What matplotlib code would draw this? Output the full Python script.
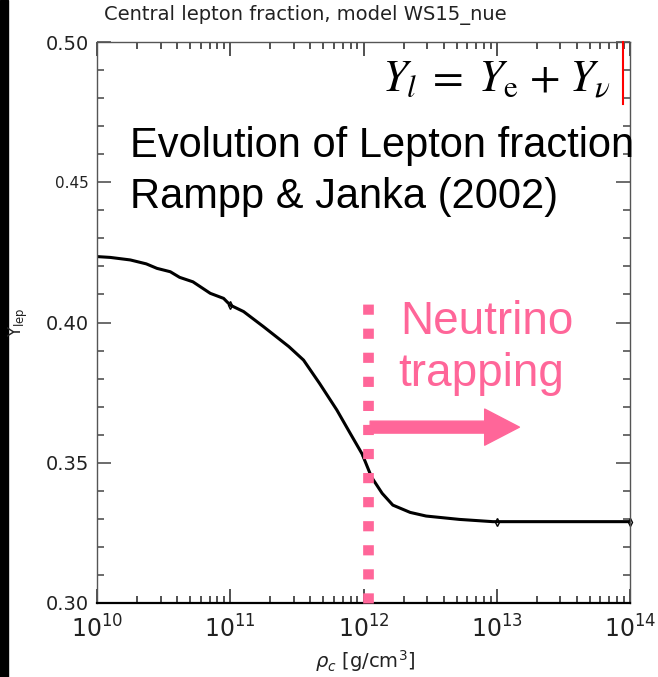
"""Central lepton fraction vs. central density (Rampp & Janka 2002 style)."""

import matplotlib
matplotlib.use("Agg")
import matplotlib.pyplot as plt
from matplotlib.patches import Rectangle
from matplotlib.ticker import MultipleLocator, FixedLocator, FixedFormatter
import numpy as np

W, H = 658, 677
PINK = "#ff6699"

# curve (log10 of central density, lepton fraction)
log_rho = [10.0, 10.10, 10.25, 10.37, 10.45, 10.55, 10.62, 10.72, 10.85,
           10.95, 11.0, 11.10, 11.25, 11.44, 11.55, 11.67, 11.80, 11.90,
           11.99, 12.06, 12.14, 12.22, 12.35, 12.47, 12.72, 12.97, 13.5, 14.0]
y_lep = [0.4235, 0.4232, 0.4223, 0.4209, 0.4193, 0.4181, 0.4161, 0.4145,
         0.4104, 0.4086, 0.4062, 0.4039, 0.3985, 0.3914, 0.3866, 0.3783,
         0.3688, 0.3605, 0.3531, 0.3449, 0.3391, 0.3349, 0.3323, 0.3310,
         0.3298, 0.3290, 0.3290, 0.3290]

# small symbols on the curve
mark_log_rho = [11.0, 12.0, 13.0, 14.0]
mark_y = [0.4062, 0.3525, 0.3290, 0.3290]

y_ticks = [0.30, 0.35, 0.40, 0.45, 0.50]
y_ticklabels = ["0.30", "0.35", "0.40", "0.45", "0.50"]
x_decades = [10, 11, 12, 13, 14]
x_ticklabels = [r"$10^{10}$", r"$10^{11}$", r"$10^{12}$", r"$10^{13}$", r"$10^{14}$"]
x_minor = [d + np.log10(m) for d in x_decades[:-1] for m in range(2, 10)]

trap_log_rho = 12.034
trap_y = [0.30, 0.408]
arrow_log_rho = [12.05, 13.17]
arrow_y = 0.3627


def px(x, y):
    return x / W, 1 - y / H


fig = plt.figure(figsize=(W / 100, H / 100), dpi=100)
ax = fig.add_axes([97 / W, 1 - 603 / H, 533 / W, 561 / H])

fig.patches.append(Rectangle((0, 0), 8 / W, 1, transform=fig.transFigure,
                             color="black", zorder=0))

# x axis is log10(rho), labelled as powers of ten
ax.plot(log_rho, y_lep, color="black", lw=2.2, solid_capstyle="round",
        solid_joinstyle="round")
ax.plot(mark_log_rho, mark_y, ls="none", marker="d",
        ms=4, mfc="none", mec="black", mew=1.0, clip_on=False)

ax.set_xlim(x_decades[0], x_decades[-1])
ax.set_ylim(0.30, 0.50)

ax.yaxis.set_major_locator(FixedLocator(y_ticks))
ax.yaxis.set_major_formatter(FixedFormatter(y_ticklabels))
ax.yaxis.set_minor_locator(MultipleLocator(0.01))
ax.xaxis.set_major_locator(FixedLocator(x_decades))
ax.xaxis.set_major_formatter(FixedFormatter(x_ticklabels))
ax.xaxis.set_minor_locator(FixedLocator(x_minor))
ax.tick_params(which="both", direction="in", top=True, right=True,
               color="#444444", width=1.1)
ax.tick_params(which="major", length=10, labelsize=14, pad=6)
ax.tick_params(which="minor", length=5)
ax.tick_params(axis="x", which="major", labelsize=17, pad=9)
ax.tick_params(axis="x", which="both", color="#222222")

for sp in ax.spines.values():
    sp.set_color("#555555")
    sp.set_linewidth(1.0)
ax.spines["bottom"].set_color("black")
ax.spines["bottom"].set_linewidth(1.6)

for lab in ax.get_yticklabels():
    lab.set_color("#222222")
    if lab.get_text() == "0.45":
        lab.set_fontsize(11)
for lab in ax.get_xticklabels():
    lab.set_color("#222222")

fig.text(*px(305, 15), "Central lepton fraction, model WS15_nue",
         ha="center", va="center", fontsize=14, color="#222222")
fig.text(*px(365, 661), r"$\rho_c$ [g/cm$^3$]", ha="center", va="center",
         fontsize=14, color="#222222")
fig.text(*px(18, 322), r"$\mathrm{Y_{lep}}$", ha="center", va="center",
         rotation=90, fontsize=12, color="#222222")

# neutrino trapping marker
ax.plot([trap_log_rho] * 2, trap_y, color=PINK, lw=7.7,
        ls=(0, (0.95, 1.3)), solid_capstyle="butt", dash_capstyle="butt",
        clip_on=False, zorder=3)
ax.annotate("", xy=(arrow_log_rho[1], arrow_y),
            xytext=(arrow_log_rho[0], arrow_y),
            arrowprops=dict(arrowstyle="simple,head_length=1.25,head_width=1.3,tail_width=0.43",
                            color=PINK, mutation_scale=20, shrinkA=0, shrinkB=0))

fig.text(*px(400, 334), "Neutrino", fontsize=33, color=PINK,
         family="Liberation Sans", ha="left", va="baseline")
fig.text(*px(398, 386), "trapping", fontsize=33, color=PINK,
         family="Liberation Sans", ha="left", va="baseline")

fig.text(*px(130, 157), "Evolution of Lepton fraction", fontsize=30,
         family="Liberation Sans", color="black", ha="left", va="baseline")
fig.text(*px(130, 208), "Rampp & Janka (2002)", fontsize=30,
         family="Liberation Sans", color="black", ha="left", va="baseline")

fig.text(*px(382, 92), r"$Y_l\;=\;Y_\mathrm{e}\;\!+\;\!Y_\nu$", fontsize=32,
         color="black", ha="left", va="baseline",
         math_fontfamily="stix")
fig.add_artist(plt.Line2D([623 / W] * 2, [1 - 42 / H, 1 - 104 / H],
                          transform=fig.transFigure, color="red", lw=1.5))

fig.savefig("out.png", dpi=100)
